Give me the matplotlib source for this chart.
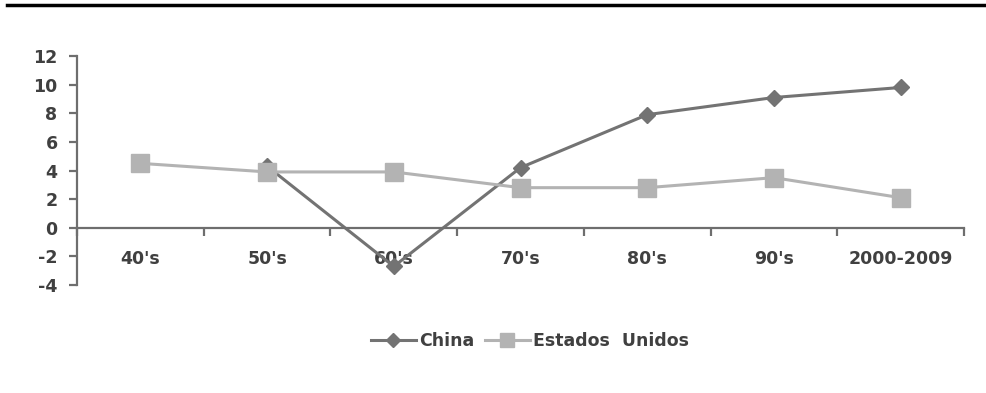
import matplotlib

matplotlib.use("Agg")
import matplotlib.pyplot as plt
from matplotlib.lines import Line2D

DECADES = ["40's", "50's", "60's", "70's", "80's", "90's", "2000-2009"]
CHINA = [None, 4.3, -2.7, 4.2, 7.9, 9.1, 9.8]
USA = [4.5, 3.9, 3.9, 2.8, 2.8, 3.5, 2.1]
Y_TICKS = [-4, -2, 0, 2, 4, 6, 8, 10, 12]

TEXT_COLOR = "#404040"
AXIS_COLOR = "#6e6e6e"
CHINA_COLOR = "#737373"
USA_COLOR = "#b3b3b3"

plt.rcParams["font.family"] = ["DejaVu Sans"]
plt.rcParams["font.weight"] = "bold"

fig = plt.figure(figsize=(9.86, 3.93), dpi=100)
ax = fig.add_axes([77 / 986, 1 - 285 / 393, (964 - 77) / 986, (285 - 56) / 393])

x = list(range(len(DECADES)))
china_x = [i for i, v in zip(x, CHINA) if v is not None]
china_y = [v for v in CHINA if v is not None]

ax.plot(x, USA, color=USA_COLOR, lw=2.2, marker="s", ms=13, mec=USA_COLOR,
        label="Estados  Unidos", zorder=3)
ax.plot(china_x, china_y, color=CHINA_COLOR, lw=2.2, marker="D", ms=8.5, mec=CHINA_COLOR,
        label="China", zorder=2)

ax.set_xlim(-0.5, len(DECADES) - 0.5)
ax.set_ylim(Y_TICKS[0], Y_TICKS[-1])

for side in ["top", "right"]:
    ax.spines[side].set_visible(False)
ax.spines["bottom"].set_position(("data", 0))
ax.spines["bottom"].set_color(AXIS_COLOR)
ax.spines["left"].set_color(AXIS_COLOR)
ax.spines["bottom"].set_linewidth(1.6)
ax.spines["left"].set_linewidth(1.6)

ax.set_yticks(Y_TICKS)
ax.set_yticklabels([str(t) for t in Y_TICKS], fontsize=12.5, color=TEXT_COLOR, fontweight="bold")
ax.tick_params(axis="y", direction="out", length=6, width=1.6, color=AXIS_COLOR, pad=8)

ax.set_xticks([i - 0.5 for i in range(len(DECADES) + 1)])
ax.set_xticklabels([])
ax.tick_params(axis="x", which="major", direction="out", length=6, width=1.6, color=AXIS_COLOR)
ax.set_xticks(x, minor=True)
ax.set_xticklabels(DECADES, minor=True, fontsize=12.5, color=TEXT_COLOR, fontweight="bold")
ax.tick_params(axis="x", which="minor", length=0, pad=16)

handles = [
    Line2D([], [], color=CHINA_COLOR, lw=2.2, marker="D", ms=7, mec=CHINA_COLOR),
    Line2D([], [], color=USA_COLOR, lw=2.2, marker="s", ms=10, mec=USA_COLOR),
]
fig.legend(handles, ["China", "Estados  Unidos"], loc="center", bbox_to_anchor=(530 / 986, 1 - 341 / 393),
           ncol=2, frameon=False, labelcolor=TEXT_COLOR, handlelength=2.6,
           handletextpad=0.2, columnspacing=0.6, prop={"weight": "bold", "size": 12.5})

fig.add_artist(Line2D([7 / 986, 1], [1 - 5 / 393, 1 - 5 / 393], color="black", lw=2.5,
                      transform=fig.transFigure))

fig.savefig("out.png", dpi=100)
